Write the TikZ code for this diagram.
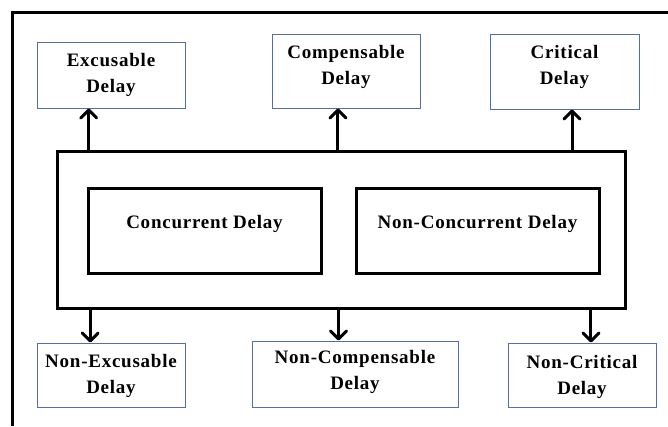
\documentclass[tikz,border=0pt]{standalone}
\usepackage{fontspec}
\setmainfont{Liberation Serif}
\usetikzlibrary{arrows.meta,calc}

\definecolor{boxedge}{RGB}{84,112,156}

% box content: width, height, first-baseline drop, text
\newcommand{\boxtext}[4]{%
  \parbox[c][#2][t]{#1}{\centering\bfseries\fontsize{19}{26}\selectfont
    \addfontfeature{LetterSpace=4}\rule{0pt}{#3}#4}}

\tikzset{
  smallbox/.style={draw=boxedge, line width=1pt, inner sep=0pt, fill=white},
  thickbox/.style={draw=black, line width=3pt, inner sep=0pt},
  arr/.style={draw=black, line width=3pt,
    -{Straight Barb[length=8pt,width=16pt,line width=3pt,round]}},
  frameline/.style={draw=black, line width=3pt},
}

\begin{document}
\begin{tikzpicture}[x=1pt, y=-1pt]
  \useasboundingbox (0,0) rectangle (668,426);

  % page frame (top and left edges)
  \draw[frameline, line join=miter] (12.5,426) -- (12.5,12) -- (668,12);

  % central block with the two delay kinds
  \node[thickbox, minimum width=568pt, minimum height=157pt] (big) at (341,229.5) {};
  \node[thickbox] (conc) at (204.5,230.5)
    {\boxtext{233pt}{85pt}{40pt}{Concurrent Delay}};
  \node[thickbox] (nconc) at (477.5,230.5)
    {\boxtext{243pt}{85pt}{40pt}{Non-Concurrent Delay}};

  % upper categories
  \node[smallbox] (exc) at (111,75)
    {\boxtext{148pt}{66pt}{24pt}{Excusable\\Delay}};
  \node[smallbox] (comp) at (346,71)
    {\boxtext{148pt}{74pt}{24pt}{Compensable\\Delay}};
  \node[smallbox] (crit) at (564.5,71.5)
    {\boxtext{149pt}{75pt}{24pt}{Critical\\Delay}};

  % lower categories
  \node[smallbox] (nexc) at (111,375)
    {\boxtext{148pt}{64pt}{24pt}{Non-Excusable\\Delay}};
  \node[smallbox] (ncomp) at (355,374)
    {\boxtext{206pt}{66pt}{22pt}{Non-Compensable\\Delay}};
  \node[smallbox] (ncrit) at (582,375)
    {\boxtext{148pt}{64pt}{25pt}{Non-Critical\\Delay}};

  % arrow attachment points
  \coordinate (a1) at ($(exc.south west)!0.35!(exc.south east)$);
  \coordinate (a2) at ($(comp.south west)!0.446!(comp.south east)$);
  \coordinate (a3) at ($(crit.south west)!0.55!(crit.south east)$);
  \coordinate (b1) at ($(nexc.north west)!0.36!(nexc.north east)$);
  \coordinate (b2) at ($(ncomp.north west)!0.42!(ncomp.north east)$);
  \coordinate (b3) at ($(ncrit.north west)!0.56!(ncrit.north east)$);

  \draw[arr] (a1 |- big.north) -- (a1);
  \draw[arr] (a2 |- big.north) -- (a2);
  \draw[arr] (a3 |- big.north) -- (a3);
  \draw[arr] (b1 |- big.south) -- (b1);
  \draw[arr] (b2 |- big.south) -- (b2);
  \draw[arr] (b3 |- big.south) -- (b3);
\end{tikzpicture}
\end{document}
